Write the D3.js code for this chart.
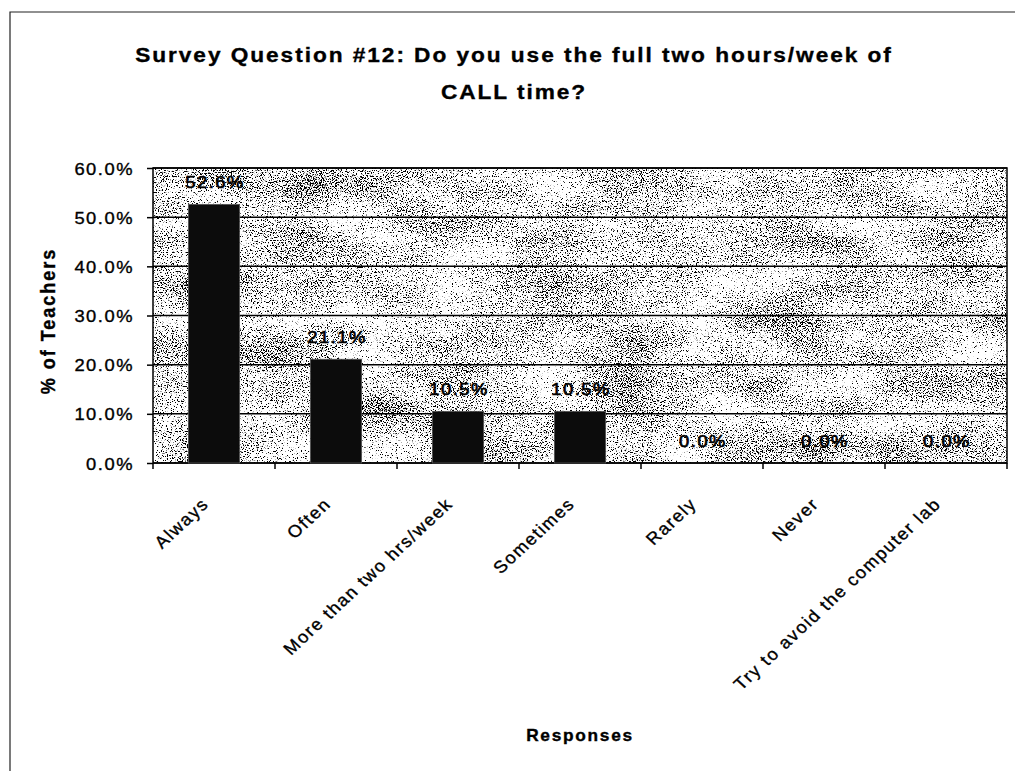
<!DOCTYPE html>
<html>
<head>
<meta charset="utf-8">
<script src="https://cdn.jsdelivr.net/npm/d3@7"></script>
<style>
  body { margin: 0; background: #fff; }
  text { font-family: Arial, "Liberation Sans", sans-serif; fill: #000; stroke: #000; stroke-width: 0.35px; }
</style>
</head>
<body>
<div id="chart"></div>
<script>
var svgWidth = 1015;
var svgHeight = 771;

// data
var categories = ["Always", "Often", "More than two hrs/week", "Sometimes", "Rarely", "Never", "Try to avoid the computer lab"];
var percentValues = [52.6, 21.1, 10.5, 10.5, 0.0, 0.0, 0.0];
var yTickValues = [0, 10, 20, 30, 40, 50, 60];
var titleLines = ["Survey Question #12:  Do you use the full two hours/week of", "CALL time?"];

var plot = { left: 153, right: 1007, top: 168, bottom: 463 };
// the scan is slightly wider than tall, so text gets stretched a bit
var stretch = 1.08;

var svg = d3.select("#chart")
  .append("svg")
  .attr("width", svgWidth)
  .attr("height", svgHeight);

// speckled background like the scanned original
var defs = svg.append("defs");
var filter = defs.append("filter")
  .attr("id", "speckle")
  .attr("x", 0).attr("y", 0).attr("width", 1).attr("height", 1);
filter.append("feTurbulence")
  .attr("type", "fractalNoise")
  .attr("baseFrequency", "0.8")
  .attr("numOctaves", 2)
  .attr("seed", 7)
  .attr("result", "fine");
filter.append("feColorMatrix")
  .attr("in", "fine")
  .attr("type", "matrix")
  .attr("values", "0 0 0 0 0  0 0 0 0 0  0 0 0 0 0  1 0 0 0 0")
  .attr("result", "fineA");
filter.append("feTurbulence")
  .attr("type", "fractalNoise")
  .attr("baseFrequency", "0.012 0.03")
  .attr("numOctaves", 2)
  .attr("seed", 3)
  .attr("result", "coarse");
filter.append("feColorMatrix")
  .attr("in", "coarse")
  .attr("type", "matrix")
  .attr("values", "0 0 0 0 0  0 0 0 0 0  0 0 0 0 0  1 0 0 0 0")
  .attr("result", "coarseA");
filter.append("feComposite")
  .attr("in", "fineA")
  .attr("in2", "coarseA")
  .attr("operator", "arithmetic")
  .attr("k1", 0).attr("k2", -12).attr("k3", -3.5).attr("k4", 7.05)
  .attr("result", "mix");
filter.append("feColorMatrix")
  .attr("in", "mix")
  .attr("type", "matrix")
  .attr("values", "0 0 0 0 0  0 0 0 0 0  0 0 0 0 0  0 0 0 1 0")
  .attr("result", "dots");
filter.append("feFlood").attr("flood-color", "#ffffff").attr("result", "bg");
var merge = filter.append("feMerge");
merge.append("feMergeNode").attr("in", "bg");
merge.append("feMergeNode").attr("in", "dots");

// outer chart frame
svg.append("path")
  .attr("d", `M10,${svgHeight} V12 H${svgWidth}`)
  .attr("fill", "none")
  .attr("stroke", "#222")
  .attr("stroke-width", 1.2);

function place(x, y, angle) {
  return `translate(${x},${y}) scale(${stretch},1)` + (angle ? ` rotate(${angle})` : "");
}

// title
svg.append("g").selectAll("text")
  .data(titleLines)
  .enter()
  .append("text")
  .attr("transform", (d, i) => place(514, 62 + i * 37))
  .attr("text-anchor", "middle")
  .attr("font-size", "21px")
  .attr("font-weight", "bold")
  .attr("letter-spacing", "1.8px")
  .text(d => d);

// scales
var xSlot = d3.scaleBand()
  .domain(categories)
  .range([plot.left, plot.right]);

var gap = 0.58;
var xBar = d3.scaleBand()
  .domain(categories)
  .range([plot.left, plot.right])
  .paddingInner(gap)
  .paddingOuter(gap / 2);

var y = d3.scaleLinear()
  .domain([0, 60])
  .range([plot.bottom, plot.top]);

// plot area
svg.append("rect")
  .attr("x", plot.left)
  .attr("y", plot.top)
  .attr("width", plot.right - plot.left)
  .attr("height", plot.bottom - plot.top)
  .attr("fill", "#fff")
  .attr("filter", "url(#speckle)");

// gridlines
svg.append("g").selectAll("line")
  .data(yTickValues)
  .enter()
  .append("line")
  .attr("x1", plot.left)
  .attr("x2", plot.right)
  .attr("y1", d => y(d))
  .attr("y2", d => y(d))
  .attr("stroke", "#000")
  .attr("stroke-width", 1.5);

svg.append("rect")
  .attr("x", plot.left)
  .attr("y", plot.top)
  .attr("width", plot.right - plot.left)
  .attr("height", plot.bottom - plot.top)
  .attr("fill", "none")
  .attr("stroke", "#000")
  .attr("stroke-width", 1.5);

// bars
svg.append("g").selectAll("rect")
  .data(percentValues)
  .enter()
  .append("rect")
  .attr("x", (d, i) => xBar(categories[i]))
  .attr("y", d => y(d))
  .attr("width", xBar.bandwidth())
  .attr("height", d => y(0) - y(d))
  .attr("fill", "#0c0c0c")
  .attr("stroke", "#555")
  .attr("stroke-width", 0.8);

// value labels
svg.append("g").selectAll("text")
  .data(percentValues)
  .enter()
  .append("text")
  .attr("transform", (d, i) => place(xBar(categories[i]) + xBar.bandwidth() / 2 + 1, y(d) - 16))
  .attr("text-anchor", "middle")
  .attr("font-size", "17px")
  .attr("letter-spacing", "1.4px")
  .style("stroke-width", "0.7px")
  .text(d => d.toFixed(1) + "%");

// y axis
var yAxis = svg.append("g")
  .attr("transform", `translate(${plot.left},0)`)
  .call(d3.axisLeft(y)
    .tickValues(yTickValues)
    .tickSize(6)
    .tickPadding(15)
    .tickFormat(d => d.toFixed(1) + "%"));
yAxis.select(".domain").remove();
yAxis.selectAll("line").attr("stroke", "#000").attr("stroke-width", 1.5);
yAxis.selectAll("text")
  .attr("x", null)
  .attr("dy", "0.36em")
  .attr("transform", place(-19, 0))
  .attr("font-size", "17px")
  .attr("letter-spacing", "1.4px")
  .attr("font-family", "Arial, 'Liberation Sans', sans-serif")
  .attr("fill", "#000");

// x ticks at category boundaries
var boundaries = categories.map(c => xSlot(c)).concat([plot.right]);
svg.append("g").selectAll("line")
  .data(boundaries)
  .enter()
  .append("line")
  .attr("x1", d => d)
  .attr("x2", d => d)
  .attr("y1", plot.bottom)
  .attr("y2", plot.bottom + 6)
  .attr("stroke", "#000")
  .attr("stroke-width", 1.5);

// x category labels, rotated
svg.append("g").selectAll("text")
  .data(categories)
  .enter()
  .append("text")
  .attr("transform", d => place(xSlot(d) + xSlot.bandwidth() / 2 - 4, plot.bottom + 42, -45))
  .attr("text-anchor", "end")
  .attr("font-size", "17px")
  .attr("letter-spacing", "1.5px")
  .text(d => d);

// axis titles
svg.append("text")
  .attr("transform", place((plot.left + plot.right) / 2, 741))
  .attr("text-anchor", "middle")
  .attr("font-size", "16px")
  .attr("font-weight", "bold")
  .attr("letter-spacing", "1.6px")
  .text("Responses");

svg.append("text")
  .attr("transform", place(55, 321, -90))
  .attr("text-anchor", "middle")
  .attr("font-size", "18px")
  .attr("font-weight", "bold")
  .attr("letter-spacing", "2px")
  .text("% of Teachers");
</script>
</body>
</html>
